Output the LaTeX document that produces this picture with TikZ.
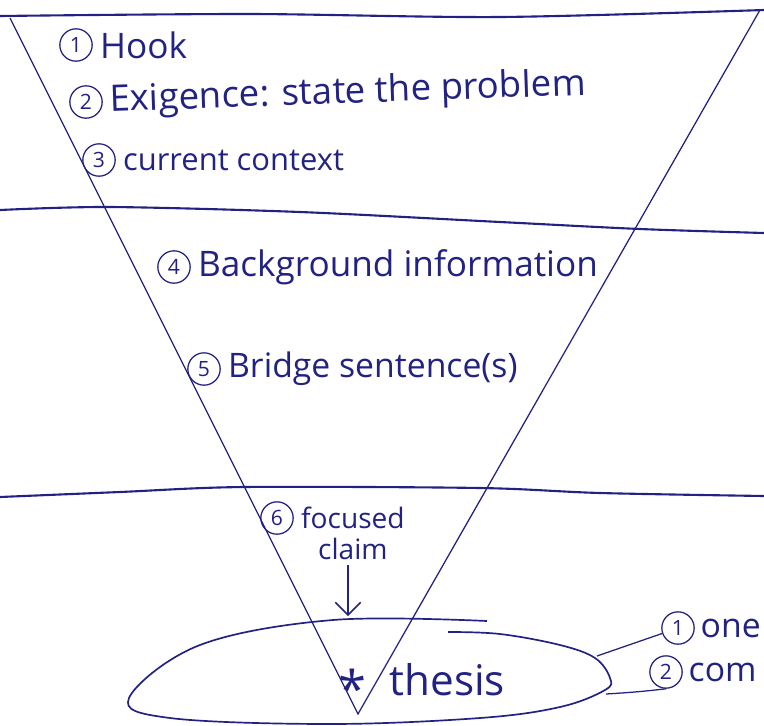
\documentclass[tikz,border=0pt]{standalone}
\usepackage{fontspec}
\setmainfont{Open Sans}
\usetikzlibrary{positioning, arrows.meta}
\definecolor{ink}{RGB}{34,34,130}
\tikzset{
  % circled step number
  num/.style={
    circle, draw=ink, line width=0.9pt,
    minimum size=23pt, inner sep=0pt,
    font=\fontsize{15pt}{17pt}\selectfont, text=ink
  },
  % handwritten note text
  note/.style={
    font=\fontsize{24pt}{28pt}\selectfont, text=ink,
    inner sep=1pt, anchor=west
  },
  % ruled lines and funnel sides
  rule/.style={draw=ink, line width=1.5pt, line cap=round},
  side/.style={draw=ink, line width=0.9pt},
  % pointer arrow
  arr/.style={-{Straight Barb[length=9pt, width=18pt]}, line width=1.1pt, draw=ink},
}

\begin{document}
\begin{tikzpicture}[x=0.025cm, y=-0.025cm, node distance=4pt]
  \useasboundingbox (0,0) rectangle (764,725);
  \clip (0,0) rectangle (764,725);

  % horizontal rules
  \draw[rule] plot[smooth] coordinates {(0,16) (250,14) (500,17) (764,10)};
  \draw[rule] plot[smooth] coordinates {(0,210) (110,207) (300,212) (500,222) (640,229) (764,233)};
  \draw[rule] plot[smooth] coordinates {(0,497) (120,492) (244,487) (480,488) (600,493) (764,496)};

  % funnel
  \coordinate (tl) at (10,18);
  \coordinate (tr) at (760,10);
  \coordinate (tip) at (358,714);
  \draw[side] (tl) -- (tip) -- (tr);

  % steps
  \node[num] (c1) at (76,45) {1};
  \node[note, right=of c1, font=\fontsize{25pt}{29pt}\selectfont] (hook) {Hook};
  \node[num] (c2) at (86,102) {2};
  \node[note, right=of c2, rotate=2, font=\fontsize{26pt}{30pt}\selectfont] (exig) {Exigence: state the problem};
  \node[num] (c3) at (99,160) {3};
  \node[note, right=of c3, font=\fontsize{22pt}{26pt}\selectfont] (ctx) {current context};
  \node[num] (c4) at (174,267) {4};
  \node[note, right=of c4, font=\fontsize{25pt}{29pt}\selectfont] (back) {Background information};
  \node[num] (c5) at (204,369) {5};
  \node[note, right=of c5] (bridge) {Bridge sentence(s)};
  \node[num] (c6) at (277,518) {6};
  \node[note, right=of c6, font=\fontsize{20pt}{24pt}\selectfont] (focus) {focused};
  \node[note, anchor=north, font=\fontsize{20pt}{24pt}\selectfont] (claim) at ([yshift=-4pt]focus.south) {claim};

  % thesis ring
  \draw[side, line width=1.2pt] plot[smooth, tension=0.6] coordinates {
    (487,621) (333,620) (200,645) (129,698) (170,718) (330,724)
    (480,718) (560,707) (605,690) (610,678) (595,658) (560,645)
    (500,634) (448,632)};
  \coordinate (aim) at (348,616);
  \draw[arr] ([yshift=-3pt]claim.south -| aim) -- (aim);
  \node[text=ink, font=\fontsize{36pt}{36pt}\selectfont, inner sep=0pt] (star) at (352,688) {*};
  \node[note, font=\fontsize{30pt}{34pt}\selectfont] (thesis) at (388,680) {thesis};

  % thesis parts
  \coordinate (e1) at (597,656);
  \coordinate (e2) at (606,694);
  \node[num] (k1) at (678,628) {1};
  \node[note, right=3pt of k1] (one) {one};
  \node[num] (k2) at (666,672) {2};
  \node[note, right=3pt of k2] (comm) {com};
  \draw[side] (e1) -- (k1);
  \draw[side] (e2) .. controls (640,692) and (655,690) .. (k2.south);
\end{tikzpicture}
\end{document}
